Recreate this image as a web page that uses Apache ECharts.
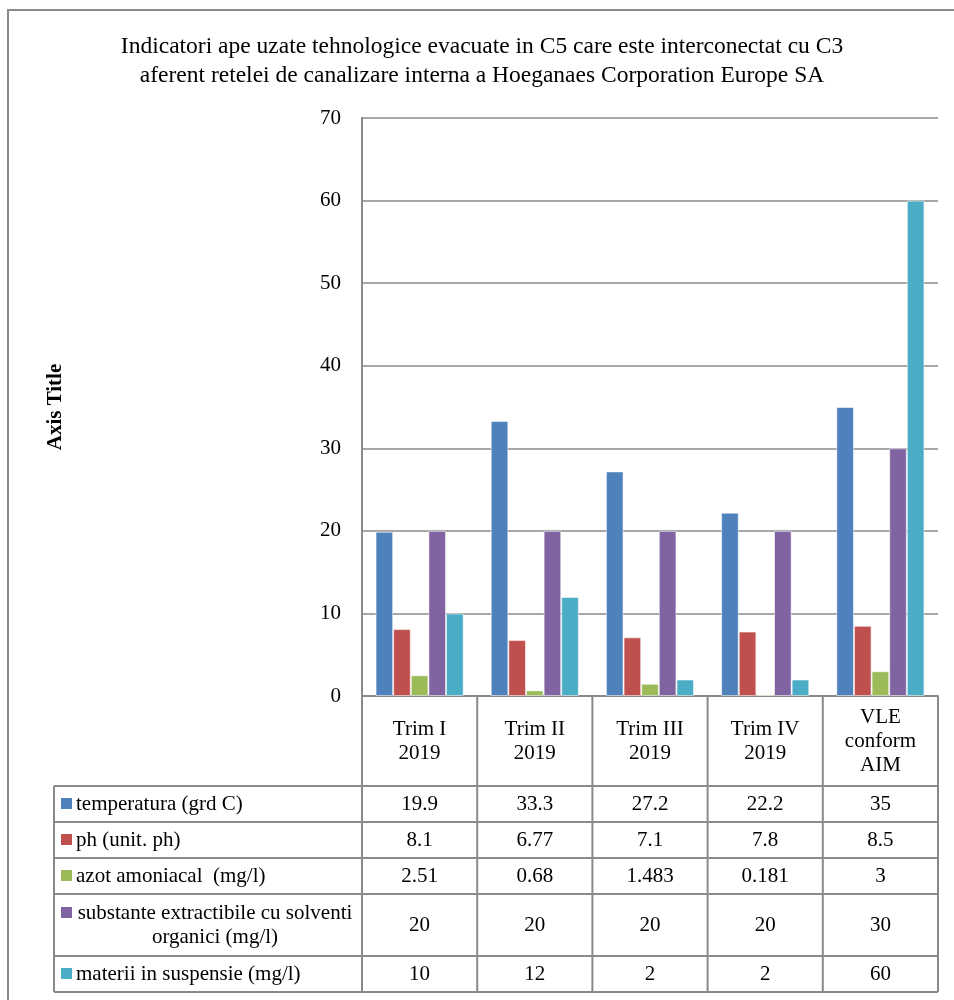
<!DOCTYPE html>
<html><head><meta charset="utf-8">
<script src="https://cdn.jsdelivr.net/npm/echarts@6/dist/echarts.min.js"></script>
<style>html,body{margin:0;padding:0;background:#fff}#c{width:954px;height:1000px}</style>
</head><body><div id="c"></div>
<script>
const titleText = 'Indicatori ape uzate tehnologice evacuate in C5 care este interconectat cu C3\naferent retelei de canalizare interna a Hoeganaes Corporation Europe SA';
const categories = ['Trim I\n2019', 'Trim II\n2019', 'Trim III\n2019', 'Trim IV\n2019', 'VLE\nconform\nAIM'];
const seriesNames = ['temperatura (grd C)', 'ph (unit. ph)', 'azot amoniacal  (mg/l)', 'substante extractibile cu solventi\norganici (mg/l)', 'materii in suspensie (mg/l)'];
const temperatura = [19.9, 33.3, 27.2, 22.2, 35];
const ph = [8.1, 6.77, 7.1, 7.8, 8.5];
const azot = [2.51, 0.68, 1.483, 0.181, 3];
const substante = [20, 20, 20, 20, 30];
const materii = [10, 12, 2, 2, 60];
const tableText = [
  ['19.9', '33.3', '27.2', '22.2', '35'],
  ['8.1', '6.77', '7.1', '7.8', '8.5'],
  ['2.51', '0.68', '1.483', '0.181', '3'],
  ['20', '20', '20', '20', '30'],
  ['10', '12', '2', '2', '60']
];
const colors = ['#4F81BD', '#C0504D', '#9BBB59', '#8064A2', '#4BACC6'];
const yMin = 0, yMax = 70, yStep = 10;

const FONT = '"Liberation Serif", "Times New Roman", serif';
const GRAY = '#8a8a8a';
const FS = 21;
const seriesData = [temperatura, ph, azot, substante, materii];

const chart = echarts.init(document.getElementById('c'), null, {renderer: 'canvas'});
chart.setOption({
  animation: false,
  color: colors,
  title: {
    text: titleText, left: 477, top: 27, textAlign: 'center',
    textStyle: {fontFamily: FONT, fontSize: 23.5, fontWeight: 'normal', color: '#000', lineHeight: 29}
  },
  grid: {left: 362, right: 16, top: 118, bottom: 304, containLabel: false},
  xAxis: {
    type: 'category', data: categories,
    axisLine: {show: true, lineStyle: {color: GRAY, width: 2}},
    axisTick: {show: false},
    axisLabel: {show: false}
  },
  yAxis: {
    type: 'value', min: yMin, max: yMax, interval: yStep,
    name: 'Axis Title', nameLocation: 'middle', nameGap: 296, nameRotate: 90,
    nameTextStyle: {fontFamily: FONT, fontSize: 21, fontWeight: 'bold', color: '#000'},
    axisLine: {show: true, lineStyle: {color: GRAY, width: 2}},
    axisTick: {show: false},
    axisLabel: {fontFamily: FONT, fontSize: FS, color: '#000', margin: 21},
    splitLine: {lineStyle: {color: GRAY, width: 1.5}}
  },
  series: seriesData.map((d, i) => ({
    type: 'bar', name: seriesNames[i], data: d,
    barGap: '0%', barCategoryGap: '23.5%',
    itemStyle: {color: colors[i], borderColor: 'rgba(255,255,255,0.55)', borderWidth: 1}
  }))
});

// Data table built from the axis scale
function buildTable() {
  const g = [];
  const c0 = chart.convertToPixel({xAxisIndex: 0}, 0);
  const c1 = chart.convertToPixel({xAxisIndex: 0}, 1);
  const band = c1 - c0;
  const y0 = chart.convertToPixel({yAxisIndex: 0}, 0);
  const bounds = [];
  for (let i = 0; i <= categories.length; i++) bounds.push(c0 - band / 2 + i * band);
  const tableLeft = 54;
  const rowTops = [y0 + 90, y0 + 126, y0 + 162, y0 + 198, y0 + 260];
  const rowBottom = y0 + 296;
  const lineStyle = {stroke: GRAY, lineWidth: 2};

  // outer chart border
  g.push({type: 'rect', shape: {x: 8, y: 10, width: 1000, height: 1050}, style: {fill: 'none', stroke: GRAY, lineWidth: 2}, silent: true});

  // vertical lines of data columns
  bounds.forEach(x => g.push({type: 'line', shape: {x1: x, y1: y0, x2: x, y2: rowBottom}, style: lineStyle}));
  g.push({type: 'line', shape: {x1: tableLeft, y1: rowTops[0], x2: tableLeft, y2: rowBottom}, style: lineStyle});
  // horizontal lines
  rowTops.concat([rowBottom]).forEach(y => g.push({type: 'line', shape: {x1: tableLeft, y1: y, x2: bounds[bounds.length - 1], y2: y}, style: lineStyle}));

  // header labels
  categories.forEach((cat, i) => {
    g.push({type: 'text', x: (bounds[i] + bounds[i + 1]) / 2, y: (y0 + rowTops[0]) / 2,
      style: {text: cat, fontFamily: FONT, fontSize: FS, fill: '#000', align: 'center', verticalAlign: 'middle', lineHeight: 24}});
  });

  // rows
  seriesNames.forEach((name, r) => {
    const top = rowTops[r];
    const bottom = r + 1 < rowTops.length ? rowTops[r + 1] : rowBottom;
    const mid = (top + bottom) / 2;
    const multi = name.indexOf('\n') >= 0;
    const firstLineY = multi ? mid - 12 : mid;
    g.push({type: 'rect', shape: {x: 61, y: firstLineY - 6, width: 11, height: 11}, style: {fill: colors[r]}});
    if (multi) {
      g.push({type: 'text', x: 215, y: mid,
        style: {text: name, fontFamily: FONT, fontSize: FS, fill: '#000', align: 'center', verticalAlign: 'middle', lineHeight: 24}});
    } else {
      g.push({type: 'text', x: 76, y: mid,
        style: {text: name, fontFamily: FONT, fontSize: FS, fill: '#000', align: 'left', verticalAlign: 'middle'}});
    }
    tableText[r].forEach((t, i) => {
      g.push({type: 'text', x: (bounds[i] + bounds[i + 1]) / 2, y: mid,
        style: {text: t, fontFamily: FONT, fontSize: FS, fill: '#000', align: 'center', verticalAlign: 'middle'}});
    });
  });
  chart.setOption({graphic: {elements: g}});
}
buildTable();
</script>
</body></html>
